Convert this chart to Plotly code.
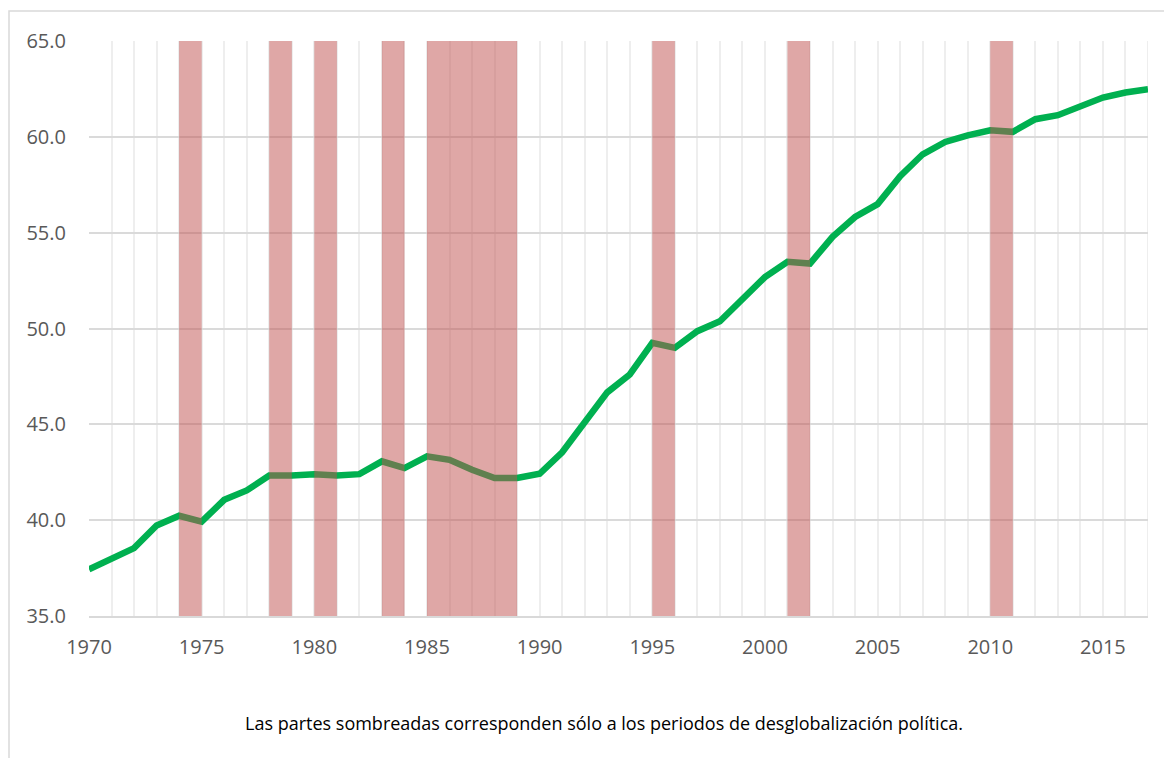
import plotly.graph_objects as go

years = list(range(1970, 2018))
values = [37.44, 37.96, 38.54, 39.72, 40.23, 39.92, 41.06, 41.55, 42.33, 42.33,
          42.40, 42.33, 42.40, 43.07, 42.72, 43.33, 43.15, 42.63, 42.20, 42.20,
          42.42, 43.54, 45.07, 46.67, 47.60, 49.25, 48.99, 49.86, 50.38, 51.53,
          52.68, 53.48, 53.39, 54.78, 55.82, 56.49, 57.95, 59.09, 59.73, 60.08,
          60.34, 60.26, 60.92, 61.13, 61.60, 62.05, 62.31, 62.48]

shade_start = [1974, 1978, 1980, 1983, 1985, 1995, 2001, 2010]
shade_end = [1975, 1979, 1981, 1984, 1989, 1996, 2002, 2011]

y_ticks = [35, 40, 45, 50, 55, 60, 65]
x_ticks = [1970, 1975, 1980, 1985, 1990, 1995, 2000, 2005, 2010, 2015]

caption = "Las partes sombreadas corresponden sólo a los periodos de desglobalización política."

fig = go.Figure()
fig.add_trace(go.Scatter(x=years, y=values, mode="lines",
                         line=dict(color="#00b050", width=6.5),
                         showlegend=False, hoverinfo="x+y"))

shapes = []
for s, e in zip(shade_start, shade_end):
    shapes.append(dict(type="rect", xref="x", yref="y", x0=s, x1=e, y0=35, y1=65,
                       fillcolor="rgba(192,80,77,0.5)", line=dict(width=0),
                       layer="above"))
# outer chart frame
shapes.append(dict(type="rect", xref="paper", yref="paper",
                   x0=-80/1059, x1=1.1, y0=-0.9, y1=1 + 30/575,
                   line=dict(color="#d9d9d9", width=1.5), fillcolor="rgba(0,0,0,0)",
                   layer="below"))

font_family = "Open Sans, Liberation Sans, sans-serif"

fig.update_layout(
    width=1172, height=758,
    margin=dict(l=81, r=32, t=33, b=150),
    paper_bgcolor="white", plot_bgcolor="white",
    shapes=shapes,
    xaxis=dict(range=[1970, 2017], tickvals=x_ticks, ticktext=[str(v) for v in x_ticks],
               showgrid=True, gridcolor="#eeeeee", gridwidth=2,
               minor=dict(dtick=1, tick0=1970, showgrid=True, gridcolor="#eeeeee", gridwidth=2),
               showline=True, linecolor="#d9d9d9", linewidth=2,
               zeroline=False, ticks="", ticklabelstandoff=12,
               tickfont=dict(family=font_family, size=20, color="#595959"),
               mirror=False),
    yaxis=dict(range=[35, 65], tickvals=y_ticks, ticktext=[f"{v:.1f}" for v in y_ticks],
               showgrid=True, gridcolor="#dadada", gridwidth=2,
               zeroline=False, ticks="", ticklabelstandoff=22,
               tickfont=dict(family=font_family, size=20, color="#595959")),
    annotations=[dict(text=caption, xref="paper", yref="paper",
                      x=(604 - 89) / 1059, y=-(723 - 616) / 575,
                      xanchor="center", yanchor="middle", showarrow=False,
                      font=dict(family=font_family, size=18, color="#000000"))],
)

# vertical line at right edge (last gridline)
fig.add_vline(x=2017, line=dict(color="#eeeeee", width=2), layer="below")

fig.write_html("out.html")
